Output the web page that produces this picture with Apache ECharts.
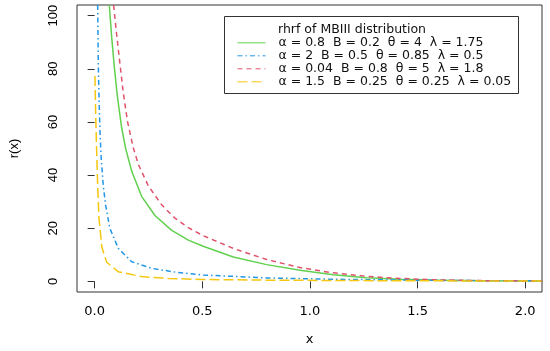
<!DOCTYPE html>
<html><head><meta charset="utf-8">
<script src="https://cdn.jsdelivr.net/npm/echarts@6/dist/echarts.min.js"></script>
<style>html,body{margin:0;padding:0;background:#fff}#c{width:550px;height:351px}</style>
</head><body><div id="c"></div>
<script>
const xTicks = [0, 0.5, 1, 1.5, 2];
const yTicks = [0, 20, 40, 60, 80, 100];
const legendTitle = 'rhrf of MBIII distribution';
const seriesNames = [
  'α = 0.8  B = 0.2  θ = 4  λ = 1.75',
  'α = 2  B = 0.5  θ = 0.85  λ = 0.5',
  'α = 0.04  B = 0.8  θ = 5  λ = 1.8',
  'α = 1.5  B = 0.25  θ = 0.25  λ = 0.05'
];
const greenX = [0.068,0.079,0.091,0.105,0.125,0.144,0.172,0.218,0.280,0.358,0.435,0.504,0.644,0.799,0.954,1.108,1.263,1.418,1.6,1.8,2.08];
const greenY = [104,92,81,70,58,50,41.5,32,24.8,19.2,15.5,13.2,9.2,6.3,4.2,2.5,1.4,0.8,0.45,0.25,0.1];
const blueX = [0.014,0.017,0.020,0.025,0.030,0.040,0.051,0.071,0.110,0.172,0.265,0.388,0.504,0.8,1.1,1.418,1.7,2.08];
const blueY = [104,82,70,56,47,36,28.6,19.9,12.4,7.4,4.9,3.3,2.4,1.3,0.8,0.5,0.3,0.2];
const redX = [0.088,0.102,0.118,0.133,0.153,0.179,0.203,0.249,0.311,0.373,0.435,0.504,0.644,0.799,0.954,1.108,1.263,1.387,1.6,1.8,2.08];
const redY = [104,93,81.5,71,60,50.4,44,36,28.8,23.8,20.2,17.2,12.4,8.2,5.2,3.2,1.9,1.2,0.55,0.28,0.12];
const yellowX = [0.0014,0.005,0.009,0.014,0.020,0.033,0.056,0.110,0.218,0.342,0.497,0.8,1.2,1.6,2.08];
const yellowY = [77.3,62,49.8,36,24,13,7.2,3.6,1.8,1.1,0.7,0.45,0.3,0.2,0.1];

const zip = (xs, ys) => xs.map((x, i) => [x, ys[i]]);
const colors = ['#61D04F', '#2297E6', '#DF536B', '#F5C710'];
const dashes = ['solid', [5,3,1.5,3], [5,4], [10,4]];
const datas = [zip(greenX, greenY), zip(blueX, blueY), zip(redX, redY), zip(yellowX, yellowY)];

const chart = echarts.init(document.getElementById('c'));
const hFont = {fontFamily: 'DejaVu Sans, sans-serif', fontSize: 13, color: '#000'};
const vFont = {fontFamily: 'Liberation Sans, Arial, sans-serif', fontSize: 13, color: '#000'};
chart.setOption({
  animation: false,
  grid: {left: 77, right: 8, top: 5, bottom: 58, show: true, borderColor: '#333', borderWidth: 1, backgroundColor: 'transparent'},
  xAxis: {
    type: 'value', min: -0.082, max: 2.078,
    axisLine: {show: false}, splitLine: {show: false},
    axisTick: {show: true, length: 7, customValues: xTicks, lineStyle: {color: '#333'}},
    axisLabel: Object.assign({customValues: xTicks, margin: 13, formatter: v => v.toFixed(1)}, hFont),
    name: 'x', nameLocation: 'middle', nameGap: 41,
    nameTextStyle: Object.assign({}, hFont)
  },
  yAxis: {
    type: 'value', min: -4, max: 104,
    axisLine: {show: false}, splitLine: {show: false},
    axisTick: {show: true, length: 7, customValues: yTicks, lineStyle: {color: '#333'}},
    axisLabel: Object.assign({customValues: yTicks, rotate: 90, margin: 17}, vFont),
    name: 'r(x)', nameLocation: 'middle', nameGap: 56, nameRotate: 90,
    nameTextStyle: Object.assign({}, vFont)
  },
  legend: {
    left: 232, top: 31.3, orient: 'vertical', itemWidth: 28, itemHeight: 10, itemGap: 0,
    data: seriesNames,
    itemStyle: {opacity: 0},
    lineStyle: {width: 1},
    textStyle: {fontFamily: 'DejaVu Sans, sans-serif', fontSize: 12.5, lineHeight: 12.8, color: '#111', padding: [0,0,0,8]}
  },
  graphic: [
    {type: 'rect', shape: {x: 224.5, y: 16.5, width: 294, height: 77}, style: {fill: 'none', stroke: '#333', lineWidth: 1}, z: 100},
    {type: 'text', x: 278, y: 30, style: {text: legendTitle, font: '12.5px DejaVu Sans, sans-serif', fill: '#111', textVerticalAlign: 'middle'}, z: 100}
  ],
  series: datas.map((d, i) => ({
    name: seriesNames[i], type: 'line', data: d, symbol: 'none', smooth: false, clip: true,
    lineStyle: {color: colors[i], width: 1.5, type: dashes[i], join: 'round'}, itemStyle: {color: colors[i]}
  }))
});
</script></body></html>
